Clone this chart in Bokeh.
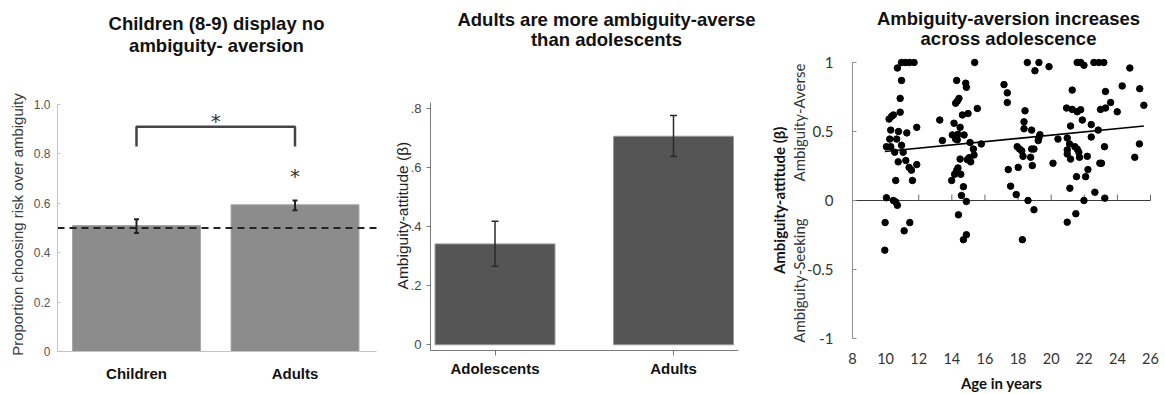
import math
import numpy as np
from bokeh.plotting import figure
from bokeh.layouts import row
from bokeh.models import Range1d, FixedTicker, Whisker, TeeHead, ColumnDataSource
from bokeh.embed import file_html
from bokeh.resources import INLINE

# ---------------- data ----------------
# Panel 1
p1_groups = ["Children", "Adults"]
p1_means = [0.51, 0.594]
p1_lower = [0.48, 0.572]
p1_upper = [0.535, 0.611]
p1_chance = 0.5
p1_yticks = [0, 0.2, 0.4, 0.6, 0.8, 1.0]
p1_ytick_labels = ["0", "0.2", "0.4", "0.6", "0.8", "1.0"]
p1_bracket_top = 0.91
p1_bracket_bottom = 0.83
p1_star_between = 0.95
p1_star_adults = 0.725
p1_title = ["Children (8-9) display no", "ambiguity- aversion"]
p1_ylabel = "Proportion choosing risk over ambiguity"

# Panel 2
p2_groups = ["Adolescents", "Adults"]
p2_means = [0.342, 0.707]
p2_lower = [0.266, 0.638]
p2_upper = [0.419, 0.777]
p2_yticks = [0, 0.2, 0.4, 0.6, 0.8]
p2_ytick_labels = ["0", ".2", ".4", ".6", ".8"]
p2_title = ["Adults are more ambiguity-averse", "than adolescents"]
p2_ylabel = "Ambiguity-attitude (β)"

# Panel 3
p3_age = [
    9.95, 9.97, 10.05, 10.05, 10.25, 10.31, 10.31, 10.21, 10.37, 10.47,
    10.47, 10.55, 10.61, 10.67, 10.71, 10.71, 10.78, 10.76, 10.61, 10.88,
    10.88, 10.96, 10.96, 10.96, 11.20, 11.44, 11.72, 11.06, 11.22, 11.28,
    11.12, 11.46, 11.42, 11.56, 11.62, 11.88, 11.88,
    15.38, 14.29, 14.84, 14.88, 14.43, 14.33, 14.23, 15.54, 14.64, 14.98,
    13.27, 14.13, 14.50, 14.03, 14.37, 14.74, 14.23, 13.43, 14.33, 15.10,
    15.78, 15.30, 15.34, 15.04, 14.94, 15.14, 14.50, 14.37, 14.29, 14.17,
    14.54, 13.99, 14.70, 14.58, 14.88, 14.40, 14.88, 14.70,
    18.56, 19.26, 19.02, 19.87, 21.57, 21.78, 21.98, 22.58, 22.88, 23.18,
    24.75, 17.15, 17.35, 17.35, 21.27, 23.28, 24.29, 25.35, 25.60, 23.59,
    23.99, 18.42, 20.93, 21.27, 21.57, 21.78, 22.98, 23.28, 18.36, 18.36,
    18.82, 21.88, 21.17, 22.42, 22.84, 19.32, 19.26, 19.22, 20.41, 20.97,
    21.11, 22.42, 17.95, 18.09, 18.22, 18.82, 18.96, 21.43, 21.57, 21.67,
    20.97, 20.97, 21.17, 23.22, 25.33, 18.30, 18.76, 18.86, 21.71, 22.18,
    25.05, 20.11, 22.94, 23.04, 17.41, 18.01, 22.22, 21.53, 22.08, 17.55,
    17.89, 21.13, 22.64, 23.24, 18.60, 21.98, 18.96, 21.49, 20.97, 18.26,
]
p3_attitude = [
    -0.36, -0.16, 0.02, 0.39, 0.445, 0.39, 0.51, 0.59, 0.61, 0.62,
    0.00, 0.35, -0.01, 0.445, -0.035, 0.96, 0.50, 0.28, 0.145, 0.74,
    0.64, 0.87, 0.40, 1.0, 1.0, 1.0, 1.0, 0.35, 0.29, 0.49,
    -0.22, -0.16, 0.24, 0.22, 0.145, 0.26, 0.53,
    1.0, 0.87, 0.85, 0.82, 0.74, 0.72, 0.705, 0.667, 0.62, 0.63,
    0.583, 0.56, 0.53, 0.475, 0.48, 0.475, 0.445, 0.434, 0.44, 0.42,
    0.41, 0.373, 0.33, 0.31, 0.296, 0.28, 0.30, 0.236, 0.217, 0.19,
    0.19, 0.145, 0.10, 0.036, -0.007, -0.104, -0.248, -0.284,
    1.0, 1.0, 0.94, 0.97, 1.0, 1.0, 0.98, 1.0, 1.0, 1.0,
    0.96, 0.84, 0.78, 0.71, 0.80, 0.79, 0.83, 0.81, 0.69, 0.71,
    0.643, 0.65, 0.67, 0.66, 0.643, 0.658, 0.66, 0.67, 0.57, 0.52,
    0.51, 0.583, 0.54, 0.55, 0.51, 0.477, 0.453, 0.434, 0.445, 0.453,
    0.41, 0.46, 0.39, 0.373, 0.36, 0.373, 0.373, 0.39, 0.373, 0.35,
    0.366, 0.337, 0.30, 0.39, 0.41, 0.32, 0.313, 0.253, 0.313, 0.32,
    0.313, 0.27, 0.27, 0.27, 0.224, 0.24, 0.224, 0.173, 0.173, 0.104,
    0.043, 0.089, 0.06, 0.017, 0.0, 0.0, -0.067, -0.096, -0.157, -0.284,
]
p3_xticks = [8, 10, 12, 14, 16, 18, 20, 22, 24, 26]
p3_yticks = [-1, -0.5, 0, 0.5, 1]
p3_ytick_labels = ["-1", "-0.5", "0", "0.5", "1"]
p3_side_ticks = [0.565, -0.58]
p3_side_labels = ["Ambiguity-Averse", "Ambiguity-Seeking"]
p3_title = ["Ambiguity-aversion increases", "across adolescence"]
p3_ylabel = "Ambiguity-attitude (β)"
p3_xlabel = "Age in years"

# ---------------- layout helpers ----------------
H = 394
ARIAL = "Liberation Sans"
CAL = "Lato"


class Geo:
    """Pixel geometry of one panel -> data ranges (frame fills the whole figure)."""
    def __init__(self, width, x_ref, x_px, ppx, y_ref, y_px, ppy):
        self.w, self.ppx, self.ppy = width, ppx, ppy
        self.x0 = x_ref - x_px / ppx
        self.x1 = self.x0 + width / ppx
        self.y1 = y_ref + y_px / ppy
        self.y0 = self.y1 - H / ppy

    def xd(self, px):
        return self.x0 + px / self.ppx

    def yd(self, py):
        return self.y1 - py / self.ppy


def make_fig(g):
    p = figure(width=g.w, height=H, x_range=Range1d(g.x0, g.x1), y_range=Range1d(g.y0, g.y1),
               output_backend="svg", toolbar_location=None, min_border=0)
    p.outline_line_color = None
    p.grid.visible = False
    p.title.text = ""
    return p


def add_text(p, x, y, txt, font, size, style="normal", color="#111111", angle=0.0):
    p.text(x=[x], y=[y], text=[txt], angle=angle, text_align="center",
           text_baseline="middle", text_font={"value": font}, text_font_size=size,
           text_font_style=style, text_color=color)


def add_title(p, g, cx_px, lines, ys_px):
    for txt, py in zip(lines, ys_px):
        add_text(p, g.xd(cx_px), g.yd(py), txt, ARIAL, "18.5px", "bold", "#111111")


def style_axis(ax, font, size, color, style="normal"):
    ax.minor_tick_line_color = None
    ax.major_label_text_font = font
    ax.major_label_text_font_size = size
    ax.major_label_text_color = color
    ax.major_label_text_font_style = style


# ---------------- Panel 1 ----------------
g1 = Geo(388, 1, 136, 158.5, 0, 351, 247)
pos1 = list(range(1, len(p1_groups) + 1))
p1_xlim = (g1.xd(57), g1.xd(376))
p1 = make_fig(g1)
p1.vbar(x=pos1, top=p1_means, bottom=0, width=0.807,
        fill_color="#8c8c8c", line_color="#a6a6a6", line_width=1)
src1 = ColumnDataSource(dict(x=pos1, lower=p1_lower, upper=p1_upper))
p1.add_layout(Whisker(base="x", lower="lower", upper="upper", source=src1, level="overlay",
                      line_color="#222222", line_width=2,
                      upper_head=TeeHead(size=5, line_color="#222222", line_width=2),
                      lower_head=TeeHead(size=5, line_color="#222222", line_width=2)))
p1.line(x=list(p1_xlim), y=[p1_chance, p1_chance], line_color="#222222",
        line_width=2, line_dash="7 5")
p1.line(x=[pos1[0], pos1[0], pos1[1], pos1[1]],
        y=[p1_bracket_bottom, p1_bracket_top, p1_bracket_top, p1_bracket_bottom],
        line_color="#444444", line_width=2.5)
p1.text(x=[(pos1[0] + pos1[1]) / 2, pos1[1]], y=[p1_star_between, p1_star_adults],
        text=["*", "*"], text_align="center", text_baseline="middle",
        text_font={"value": "DejaVu Sans"}, text_font_size="20px",
        text_color="#333333", y_offset=4)
add_title(p1, g1, 216, p1_title, [23, 45])
add_text(p1, g1.xd(17), 0.514, p1_ylabel, ARIAL, "15px", "normal", "#3a3a3a", math.pi / 2)

ya = p1.yaxis[0]
ya.fixed_location = p1_xlim[0]
ya.ticker = FixedTicker(ticks=p1_yticks)
ya.major_label_overrides = dict(zip(p1_yticks, p1_ytick_labels))
ya.bounds = (p1_yticks[0], p1_yticks[-1])
ya.axis_line_color = "#c4c4c4"
ya.major_tick_line_color = "#c4c4c4"
ya.major_tick_in = 3
ya.major_tick_out = 0
ya.major_label_standoff = 7
style_axis(ya, ARIAL, "12px", "#555555")

xa = p1.xaxis[0]
xa.fixed_location = 0
xa.bounds = p1_xlim
xa.ticker = FixedTicker(ticks=pos1)
xa.major_label_overrides = dict(zip(pos1, p1_groups))
xa.axis_line_color = "#c4c4c4"
xa.major_tick_line_color = None
xa.major_tick_in = 0
xa.major_tick_out = 0
xa.major_label_standoff = 13
style_axis(xa, ARIAL, "15px", "#111111", "bold")

# ---------------- Panel 2 ----------------
g2 = Geo(372, 1, 106.5, 178.5, 0, 344.3, 295)
pos2 = list(range(1, len(p2_groups) + 1))
p2_xlim = (g2.xd(42), g2.xd(350))
p2_ylim = (g2.yd(350), 0.822)
p2 = make_fig(g2)
p2.vbar(x=pos2, top=p2_means, bottom=0, width=0.672,
        fill_color="#555555", line_color="#9a9a9a", line_width=1)
src2 = ColumnDataSource(dict(x=pos2, lower=p2_lower, upper=p2_upper))
p2.add_layout(Whisker(base="x", lower="lower", upper="upper", source=src2, level="overlay",
                      line_color="#2a2a2a", line_width=1.5,
                      upper_head=TeeHead(size=7, line_color="#2a2a2a", line_width=1.5),
                      lower_head=TeeHead(size=7, line_color="#2a2a2a", line_width=1.5)))
add_title(p2, g2, 218, p2_title, [19, 39])
add_text(p2, g2.xd(14), 0.438, p2_ylabel, ARIAL, "15.5px", "normal", "#222222", math.pi / 2)

ya = p2.yaxis[0]
ya.fixed_location = p2_xlim[0]
ya.ticker = FixedTicker(ticks=p2_yticks)
ya.major_label_overrides = dict(zip(p2_yticks, p2_ytick_labels))
ya.bounds = p2_ylim
ya.axis_line_color = "#7a7a7a"
ya.major_tick_line_color = "#7a7a7a"
ya.major_tick_in = 0
ya.major_tick_out = 4
ya.major_label_standoff = 5
style_axis(ya, ARIAL, "13px", "#444444")

xa = p2.xaxis[0]
xa.fixed_location = p2_ylim[0]
xa.bounds = p2_xlim
xa.ticker = FixedTicker(ticks=pos2)
xa.major_label_overrides = dict(zip(pos2, p2_groups))
xa.axis_line_color = "#7a7a7a"
xa.major_tick_line_color = "#7a7a7a"
xa.major_tick_in = 0
xa.major_tick_out = 5
xa.major_label_standoff = 4
style_axis(xa, ARIAL, "15px", "#111111", "bold")

# ---------------- Panel 3 ----------------
g3 = Geo(405, 8, 92, 16.556, 0, 200, 138)
p3_xlim = (p3_xticks[0], p3_xticks[-1])
p3 = make_fig(g3)
p3.line(x=list(p3_xlim), y=[0, 0], line_color="#3a3a3a", line_width=1)
tick_len = 6 / g3.ppy
p3.segment(x0=p3_xticks[1:], y0=[0] * (len(p3_xticks) - 1), x1=p3_xticks[1:],
           y1=[tick_len] * (len(p3_xticks) - 1), line_color="#6a6a6a", line_width=1)
p3.scatter(p3_age, p3_attitude, size=6.5, color="#000000")
slope, intercept = np.polyfit(p3_age, p3_attitude, 1)
fx = [min(p3_age), max(p3_age)]
p3.line(x=fx, y=[intercept + slope * v for v in fx], line_color="#000000", line_width=1.6)
add_title(p3, g3, 248, p3_title, [17.5, 37.5])
add_text(p3, g3.xd(18), 0, p3_ylabel, CAL, "15px", "bold", "#111111", math.pi / 2)
for t, lab in zip(p3_side_ticks, p3_side_labels):
    add_text(p3, g3.xd(38), t, lab, CAL, "15px", "normal", "#333333", math.pi / 2)
add_text(p3, (p3_xlim[0] + p3_xlim[1]) / 2, g3.yd(382), p3_xlabel, CAL, "15px", "bold", "#111111")

ya = p3.yaxis[0]
ya.fixed_location = p3_xlim[0]
ya.ticker = FixedTicker(ticks=p3_yticks)
ya.major_label_overrides = dict(zip(p3_yticks, p3_ytick_labels))
ya.bounds = (p3_yticks[0], p3_yticks[-1])
ya.axis_line_color = "#8c8c8c"
ya.major_tick_line_color = "#8c8c8c"
ya.major_tick_in = 4
ya.major_tick_out = 0
ya.major_label_standoff = 19
style_axis(ya, CAL, "15px", "#333333")

xa = p3.xaxis[0]
xa.fixed_location = p3_yticks[0]
xa.ticker = FixedTicker(ticks=p3_xticks)
xa.axis_line_color = None
xa.major_tick_line_color = None
xa.major_tick_in = 0
xa.major_tick_out = 0
xa.major_label_standoff = 14
style_axis(xa, CAL, "14.5px", "#333333")

layout = row(p1, p2, p3, spacing=0)
open("out.html", "w").write(file_html(layout, INLINE))
